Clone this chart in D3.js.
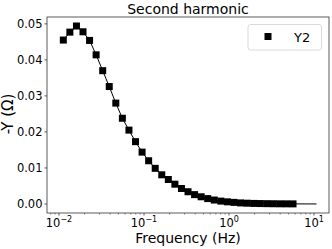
<!DOCTYPE html>
<html>
<head>
<meta charset="utf-8">
<script src="https://cdn.jsdelivr.net/npm/d3@7"></script>
<style>
  body { margin: 0; background: #fff; }
  svg { display: block; font-family: "DejaVu Sans", sans-serif; }
</style>
</head>
<body>
<svg id="chart" width="332" height="249"></svg>
<script>
// frequencies (Hz) and -Y values
var freq = [0.01125, 0.01343, 0.01605, 0.01917, 0.0229, 0.02735, 0.03267, 0.03902,
  0.04661, 0.05568, 0.06653, 0.07948, 0.09493, 0.1134, 0.1355, 0.1618, 0.1933,
  0.2309, 0.2758, 0.3295, 0.3936, 0.4701, 0.5616, 0.6709, 0.8014, 0.9572, 1.143,
  1.366, 1.631, 1.949, 2.328, 2.781, 3.322, 3.968, 4.74, 5.662];
var y2 = [0.0455, 0.0477, 0.0494, 0.0478, 0.0454, 0.0414, 0.037, 0.0326, 0.028,
  0.0238, 0.0205, 0.0173, 0.0144, 0.012, 0.0099, 0.0081, 0.0068, 0.0055, 0.0043,
  0.0034, 0.0026, 0.002, 0.0015, 0.0011, 0.0008, 0.0006, 0.00045, 0.0003, 0.00022,
  0.00016, 0.00012, 0.00009, 0.00007, 0.00005, 0.00004, 0.00003];
// the line carries on past the last marker
var tailFreq = [10.7];
var tailY = [0.00001];

var yTicks = [0, 0.01, 0.02, 0.03, 0.04, 0.05];
var xTicks = [0.01, 0.1, 1, 10];
var xExp = ["\u22122", "\u22121", "0", "1"];

var margin = {left: 47, top: 17, right: 3, bottom: 36};
var svg = d3.select("#chart");
var W = 332, H = 249;

var x = d3.scaleLog()
  .domain([0.00723, 15.0])
  .range([margin.left, W - margin.right]);
var y = d3.scaleLinear()
  .domain([-0.0025, 0.0519])
  .range([H - margin.bottom, margin.top]);

// data line + tail
var linePts = freq.map((f, i) => [f, y2[i]]).concat(tailFreq.map((f, i) => [f, tailY[i]]));
var line = d3.line().x(d => x(d[0])).y(d => y(d[1]));
svg.append("path")
  .datum(linePts)
  .attr("d", line)
  .attr("fill", "none")
  .attr("stroke", "#000")
  .attr("stroke-width", 1);

var ms = 7;
svg.append("g").selectAll("rect")
  .data(freq)
  .enter().append("rect")
    .attr("x", d => x(d) - ms / 2)
    .attr("y", (d, i) => y(y2[i]) - ms / 2)
    .attr("width", ms)
    .attr("height", ms)
    .attr("fill", "#000");

// minor ticks on the log axis
var minor = [];
[0.001, 0.01, 0.1, 1, 10].forEach(function(dec) {
  for (var k = 2; k <= 9; k++) {
    var v = dec * k;
    if (v > x.domain()[0] && v < x.domain()[1]) minor.push(v);
  }
});

var bottom = H - margin.bottom;
var gx = svg.append("g");
gx.selectAll("line.minor")
  .data(minor)
  .enter().append("line")
    .attr("x1", d => x(d)).attr("x2", d => x(d))
    .attr("y1", bottom).attr("y2", bottom + 1.5)
    .attr("stroke", "#333").attr("stroke-width", 0.6);
gx.selectAll("line.major")
  .data(xTicks)
  .enter().append("line")
    .attr("x1", d => x(d)).attr("x2", d => x(d))
    .attr("y1", bottom).attr("y2", bottom + 2.5)
    .attr("stroke", "#333").attr("stroke-width", 0.8);
var xl = gx.selectAll("text")
  .data(xTicks)
  .enter().append("text")
    .attr("x", d => x(d))
    .attr("y", 227)
    .attr("text-anchor", "middle")
    .attr("font-size", 11.5);
xl.append("tspan").text("10");
xl.append("tspan")
  .attr("dy", -5)
  .attr("font-size", 8)
  .text((d, i) => xExp[i]);

var gy = svg.append("g");
gy.selectAll("line")
  .data(yTicks)
  .enter().append("line")
    .attr("x1", margin.left - 2.5).attr("x2", margin.left)
    .attr("y1", d => y(d)).attr("y2", d => y(d))
    .attr("stroke", "#333").attr("stroke-width", 0.8);
gy.selectAll("text")
  .data(yTicks)
  .enter().append("text")
    .attr("x", margin.left - 4.5)
    .attr("y", d => y(d))
    .attr("dy", "0.36em")
    .attr("text-anchor", "end")
    .attr("font-size", 11.5)
    .text(d => d3.format(".2f")(d));

// frame
svg.append("rect")
  .attr("x", margin.left).attr("y", margin.top)
  .attr("width", W - margin.left - margin.right)
  .attr("height", H - margin.top - margin.bottom)
  .attr("fill", "none")
  .attr("stroke", "#333")
  .attr("stroke-width", 0.8);

// legend
svg.append("rect")
  .attr("x", 248).attr("y", 24.5)
  .attr("width", 73.5).attr("height", 25.5)
  .attr("rx", 2.5)
  .attr("fill", "#fff").attr("fill-opacity", 0.8)
  .attr("stroke", "#d0d0d0").attr("stroke-width", 0.8);
svg.append("rect")
  .attr("x", 268 - ms / 2).attr("y", 36.5 - ms / 2)
  .attr("width", ms).attr("height", ms)
  .attr("fill", "#000");
svg.append("text")
  .attr("x", 294).attr("y", 41.5)
  .attr("font-size", 13)
  .text("Y2");

// titles
svg.append("text")
  .attr("x", (margin.left + W - margin.right) / 2)
  .attr("y", 13.5)
  .attr("text-anchor", "middle")
  .attr("font-size", 14)
  .text("Second harmonic");
svg.append("text")
  .attr("x", (margin.left + W - margin.right) / 2)
  .attr("y", 242.5)
  .attr("text-anchor", "middle")
  .attr("font-size", 14)
  .text("Frequency (Hz)");
svg.append("text")
  .attr("transform", "translate(13," + (margin.top + (H - margin.top - margin.bottom) / 2 - 1) + ") rotate(-90)")
  .attr("text-anchor", "middle")
  .attr("font-size", 15)
  .text("-Y (\u03a9)");
</script>
</body>
</html>
